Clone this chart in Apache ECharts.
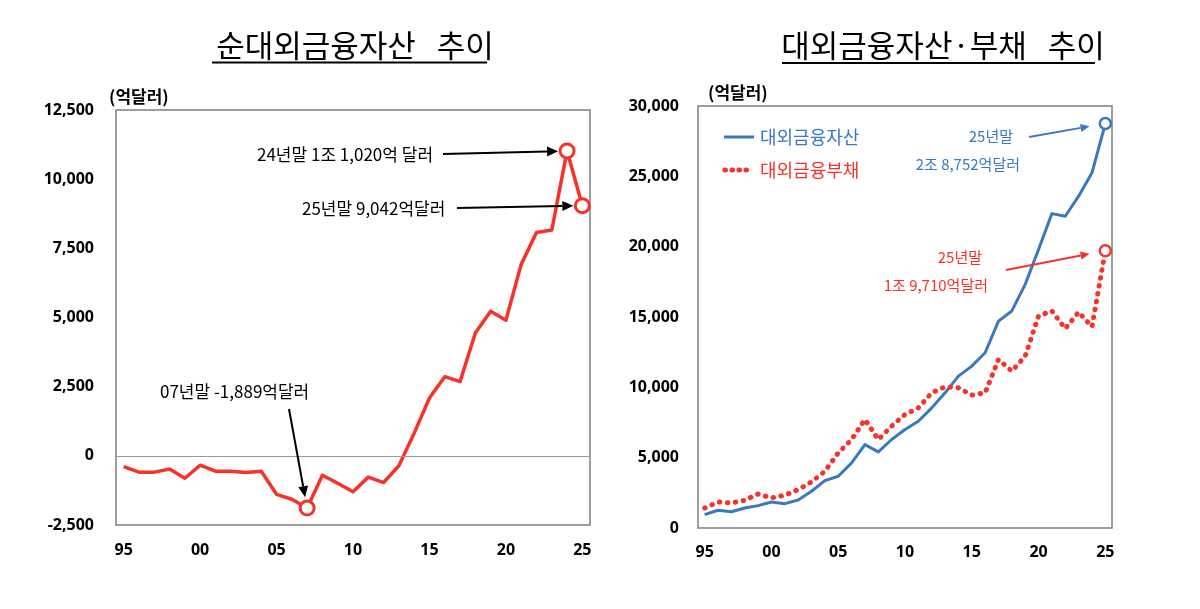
<!DOCTYPE html>
<html>
<head>
<meta charset="utf-8">
<script src="https://cdn.jsdelivr.net/npm/echarts@6/dist/echarts.min.js"></script>
<style>
  html, body { margin: 0; padding: 0; background: #fff; }
  #main { width: 1200px; height: 609px; }
</style>
</head>
<body>
<div id="main"></div>
<script>
(function () {
    var years = [];
    for (var y = 1995; y <= 2025; y++) { years.push(String(y)); }

    // 순대외금융자산 (억달러)
    var netAssets = [-390, -590, -590, -480, -810, -340, -555, -555, -600, -555,
        -1390, -1570, -1889, -700, -990, -1300, -770, -965, -360, 820,
        2090, 2860, 2680, 4440, 5230, 4900, 6920, 8070, 8160, 11020, 9042];
    // 대외금융자산
    var assets = [950, 1260, 1160, 1420, 1590, 1850, 1730, 1990, 2610, 3370,
        3680, 4630, 5930, 5410, 6290, 7000, 7590, 8540, 9610, 10800,
        11510, 12460, 14710, 15430, 17320, 19800, 22350, 22160, 23590, 25250, 28752];
    // 대외금융부채
    var liabilities = [1420, 1850, 1780, 1970, 2420, 2140, 2330, 2730, 3280, 4030,
        5340, 6290, 7710, 6290, 7240, 8070, 8540, 9610, 10040, 9970,
        9450, 9610, 11980, 11150, 12220, 15070, 15430, 14170, 15350, 14310, 19710];

    var leftTicks = { min: -2500, max: 12500, interval: 2500 };
    var rightTicks = { min: 0, max: 30000, interval: 5000 };

    var RED = '#f5332a';
    var BLUE = '#3a78c2';
    var NUM_FONT = 'Noto Sans';
    var KR_FONT = 'Noto Sans CJK KR';

    // 특정 연도에만 빈 원 마커
    function withMarkers(values, markYears, size) {
        return values.map(function (v, i) {
            if (markYears.indexOf(years[i]) >= 0) {
                return { value: v, symbol: 'circle', symbolSize: size };
            }
            return v;
        });
    }

    function fmt(v) {
        return echarts.format.addCommas(v);
    }

    var xAxisBase = {
        type: 'category',
        data: years,
        boundaryGap: true,
        axisLine: { show: false, onZero: false },
        axisTick: { show: false },
        splitLine: { show: false },
        axisLabel: {
            interval: 4,
            color: '#000',
            fontFamily: NUM_FONT,
            fontWeight: 'bold',
            fontSize: 16,
            formatter: function (v) { return v.slice(2); }
        }
    };

    var myChart = echarts.init(document.getElementById('main'));
    myChart.setOption({
        animation: false,
        backgroundColor: '#fff',
        title: [
            {
                text: '순대외금융자산   추이',
                left: 350, top: 25, textAlign: 'center',
                textStyle: { fontFamily: KR_FONT, fontSize: 31, fontWeight: 'normal', color: '#000' }
            },
            {
                text: '대외금융자산·부채   추이',
                left: 938, top: 25, textAlign: 'center',
                textStyle: { fontFamily: KR_FONT, fontSize: 31, fontWeight: 'normal', color: '#000' }
            }
        ],
        grid: [
            { left: 116, top: 110, width: 474, height: 415, show: true, borderColor: '#7f7f7f', borderWidth: 1.5, backgroundColor: 'transparent' },
            { left: 698, top: 106, width: 414, height: 422, show: true, borderColor: '#7f7f7f', borderWidth: 1.5, backgroundColor: 'transparent' }
        ],
        xAxis: [
            Object.assign({ gridIndex: 0 }, xAxisBase, { axisLabel: Object.assign({}, xAxisBase.axisLabel, { margin: 17 }) }),
            Object.assign({ gridIndex: 1 }, xAxisBase, { axisLabel: Object.assign({}, xAxisBase.axisLabel, { margin: 16 }) })
        ],
        yAxis: [
            {
                type: 'value', gridIndex: 0,
                min: leftTicks.min, max: leftTicks.max, interval: leftTicks.interval,
                axisLine: { show: false }, axisTick: { show: false }, splitLine: { show: false },
                axisLabel: { color: '#000', fontFamily: NUM_FONT, fontWeight: 'bold', fontSize: 16, margin: 22, formatter: fmt }
            },
            {
                type: 'value', gridIndex: 1,
                min: rightTicks.min, max: rightTicks.max, interval: rightTicks.interval,
                axisLine: { show: false }, axisTick: { show: false }, splitLine: { show: false },
                axisLabel: { color: '#000', fontFamily: NUM_FONT, fontWeight: 'bold', fontSize: 16, margin: 19, formatter: fmt }
            }
        ],
        series: [
            {
                name: '순대외금융자산',
                type: 'line',
                xAxisIndex: 0, yAxisIndex: 0,
                data: withMarkers(netAssets, ['2007', '2024', '2025'], 14),
                symbol: 'none',
                showAllSymbol: true,
                lineStyle: { color: RED, width: 3.5, join: 'round' },
                itemStyle: { color: '#fff', borderColor: RED, borderWidth: 3 },
                markLine: {
                    silent: true,
                    symbol: 'none',
                    label: { show: false },
                    lineStyle: { color: '#9a9a9a', width: 1, type: 'solid' },
                    data: [{ yAxis: 0 }]
                },
                z: 3
            },
            {
                name: '대외금융자산',
                type: 'line',
                xAxisIndex: 1, yAxisIndex: 1,
                data: withMarkers(assets, ['2025'], 11),
                symbol: 'none',
                showAllSymbol: true,
                lineStyle: { color: BLUE, width: 3, join: 'round' },
                itemStyle: { color: '#fff', borderColor: BLUE, borderWidth: 2.5 },
                z: 3
            },
            {
                name: '대외금융부채',
                type: 'line',
                xAxisIndex: 1, yAxisIndex: 1,
                data: withMarkers(liabilities, ['2025'], 11),
                symbol: 'none',
                showAllSymbol: true,
                lineStyle: { color: RED, width: 5, type: [0.5, 7.5], cap: 'round' },
                itemStyle: { color: '#fff', borderColor: RED, borderWidth: 2.5 },
                z: 3
            }
        ]
    });

    // 주석: 화살표 끝은 데이터 좌표에서 계산
    function px(grid, year, v) {
        return myChart.convertToPixel({ gridIndex: grid }, [year, v]);
    }

    function arrow(x1, y1, tip, r, color, width, head) {
        var dx = tip[0] - x1, dy = tip[1] - y1;
        var len = Math.sqrt(dx * dx + dy * dy);
        var ux = dx / len, uy = dy / len;
        var ex = tip[0] - ux * r, ey = tip[1] - uy * r;
        var bx = ex - ux * head, by = ey - uy * head;
        var w = head * 0.45;
        return [
            { type: 'line', shape: { x1: x1, y1: y1, x2: bx, y2: by }, style: { stroke: color, lineWidth: width }, z: 10 },
            { type: 'polygon', shape: { points: [[ex, ey], [bx - uy * w, by + ux * w], [bx + uy * w, by - ux * w]] }, style: { fill: color }, z: 10 }
        ];
    }

    function label(x, y, text, color, size, align) {
        return {
            type: 'text', x: x, y: y, z: 10,
            style: {
                text: text, fill: color, font: 'normal ' + size + 'px "Noto Sans CJK KR"',
                textAlign: align || 'left', textVerticalAlign: 'middle'
            }
        };
    }

    var g = [];
    // 제목 밑줄
    g.push({ type: 'line', shape: { x1: 212, y1: 62.5, x2: 487, y2: 62.5 }, style: { stroke: '#000', lineWidth: 2 } });
    g.push({ type: 'line', shape: { x1: 782, y1: 63, x2: 1095, y2: 63 }, style: { stroke: '#000', lineWidth: 2 } });
    // 단위
    g.push({ type: 'text', x: 109, y: 97, style: { text: '(억달러)', fill: '#000', font: 'bold 17px "Noto Sans CJK KR"', textVerticalAlign: 'middle' } });
    g.push({ type: 'text', x: 708, y: 93, style: { text: '(억달러)', fill: '#000', font: 'bold 17px "Noto Sans CJK KR"', textVerticalAlign: 'middle' } });

    // 범례
    g.push({ type: 'line', shape: { x1: 724, y1: 137, x2: 754, y2: 137 }, style: { stroke: BLUE, lineWidth: 3 } });
    g.push(label(760, 137, '대외금융자산', BLUE, 18));
    g.push({ type: 'line', shape: { x1: 725, y1: 170, x2: 753, y2: 170 }, style: { stroke: RED, lineWidth: 5, lineDash: [0.5, 6.5], lineCap: 'round' } });
    g.push(label(760, 170, '대외금융부채', RED, 18));

    // 왼쪽 차트
    g.push(label(257, 155, '24년말 1조 1,020억 달러', '#000', 17));
    g = g.concat(arrow(443, 154, px(0, '2024', 11020), 9, '#000', 2, 11));
    g.push(label(302, 209, '25년말 9,042억달러', '#000', 17));
    g = g.concat(arrow(457, 208, px(0, '2025', 9042), 9, '#000', 2, 11));
    g.push(label(160, 392, '07년말 -1,889억달러', '#000', 17));
    g = g.concat(arrow(289, 409, px(0, '2007', -1889), 11, '#000', 2, 11));

    // 오른쪽 차트
    g.push(label(1013, 136, '25년말', BLUE, 15, 'right'));
    g.push(label(1020, 164, '2조 8,752억달러', BLUE, 15, 'right'));
    g = g.concat(arrow(1029, 137, px(1, '2025', 28752), 16, BLUE, 1.8, 9));
    g.push(label(982, 257, '25년말', RED, 15, 'right'));
    g.push(label(988, 285, '1조 9,710억달러', RED, 15, 'right'));
    g = g.concat(arrow(1006, 270, px(1, '2025', 19710), 16, RED, 1.8, 9));

    myChart.setOption({ graphic: g });
})();
</script>
</body>
</html>
